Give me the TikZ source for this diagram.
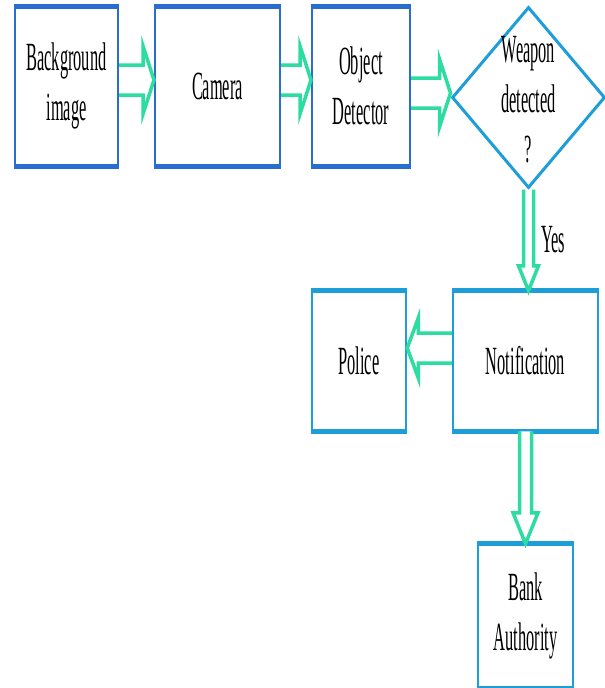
\documentclass[tikz,border=0pt]{standalone}
\usepackage{fontspec}
\setmainfont[FakeStretch=0.41]{Liberation Serif}
\usetikzlibrary{calc,shapes.geometric}
\definecolor{boxblue}{HTML}{2A6DD0}
\definecolor{lightblue}{HTML}{1E9ED8}
\definecolor{arrgreen}{HTML}{2CDCA0}
\tikzset{
  lbl/.style={font=\fontsize{40}{50}\selectfont, align=center, inner sep=0pt, text=black},
  darkbox/.style={draw=boxblue, line width=2pt, fill=white, inner sep=0pt},
  lightbox/.style={draw=lightblue, line width=2.5pt, fill=white, inner sep=0pt},
  flowarrow/.style={draw=arrgreen, line width=3.5pt, fill=white, line join=miter},
}
% horizontal hollow arrow: #1 start, #2 end (same y), #3 shaft half, #4 head half, #5 signed head length
\newcommand\harrow[5]{%
  \draw[flowarrow] let \p1=#1, \p2=#2 in
   (\x1,{\y1+#3}) -- ({\x2-(#5)},{\y1+#3}) -- ({\x2-(#5)},{\y1+#4}) -- (\x2,\y1)
   -- ({\x2-(#5)},{\y1-#4}) -- ({\x2-(#5)},{\y1-#3}) -- (\x1,{\y1-#3});}
% vertical hollow arrow downward: #1 start, #2 end (same x)
\newcommand\varrow[5]{%
  \draw[flowarrow] let \p1=#1, \p2=#2 in
   ({\x1+#3},\y1) -- ({\x1+#3},{\y2+#5}) -- ({\x1+#4},{\y2+#5}) -- (\x1,\y2)
   -- ({\x1-#4},{\y2+#5}) -- ({\x1-#3},{\y2+#5}) -- ({\x1-#3},\y1);}
\begin{document}
\begin{tikzpicture}[x=1pt,y=-1pt]
\useasboundingbox (0,0) rectangle (605,688);
% boxes
\node[darkbox, minimum width=103pt, minimum height=158pt] (bg) at (66.5,86) {};
\node[darkbox, minimum width=125pt, minimum height=158pt] (cam) at (217.5,86) {};
\node[darkbox, minimum width=98pt, minimum height=158pt] (od) at (361,86) {};
\node[diamond, draw=lightblue, line width=3pt, minimum width=153pt, minimum height=181pt, inner sep=0pt] (dec) at (528.5,97.5) {};
\node[lightbox, minimum width=145pt, minimum height=138pt] (notif) at (525.5,361) {};
\node[lightbox, minimum width=94pt, minimum height=138pt] (pol) at (359,361) {};
\node[lightbox, minimum width=95pt, minimum height=142pt] (bank) at (525.5,616) {};
% thicker top/bottom edges
\foreach \n in {bg,cam,od}
  \draw[boxblue, line width=5pt] (\n.north west) -- (\n.north east) (\n.south west) -- (\n.south east);
\foreach \n in {notif,pol,bank}
  \draw[lightblue, line width=5pt] (\n.north west) -- (\n.north east) (\n.south west) -- (\n.south east);
% labels
\node[lbl] (bgt) at (bg) {Background\\image};
\node[lbl] (camt) at (cam) {Camera};
\node[lbl] (odt) at (od) {Object\\Detector};
\node[lbl] (dect) at ($(dec)+(0,2)$) {Weapon\\detected\\?};
\node[lbl] (notift) at (notif) {Notification};
\node[lbl] (polt) at (pol) {Police};
\node[lbl] (bankt) at (bank) {Bank\\Authority};
% arrows
\harrow{($(bg.east)+(0,-6)$)}{($(cam.west)+(0,-6)$)}{15pt}{34pt}{11pt}
\harrow{($(cam.east)+(0,-6)$)}{($(od.west)+(0,-6)$)}{15pt}{34pt}{11pt}
\harrow{($(od.east)+(0,7)$)}{($(dec.west)+(0,-3)$)}{15pt}{34pt}{11pt}
\varrow{(dec.south)}{($(dec.south|-notif.north)$)}{5pt}{10pt}{25pt}
\harrow{($(notif.west)+(0,-13)$)}{($(pol.east)+(0,-13)$)}{15pt}{30pt}{-11pt}
\varrow{(notif.south)}{(bank.north)}{6pt}{12.5pt}{31pt}
\node[lbl, anchor=west] (yes) at (541,240) {Yes};
\end{tikzpicture}
\end{document}
